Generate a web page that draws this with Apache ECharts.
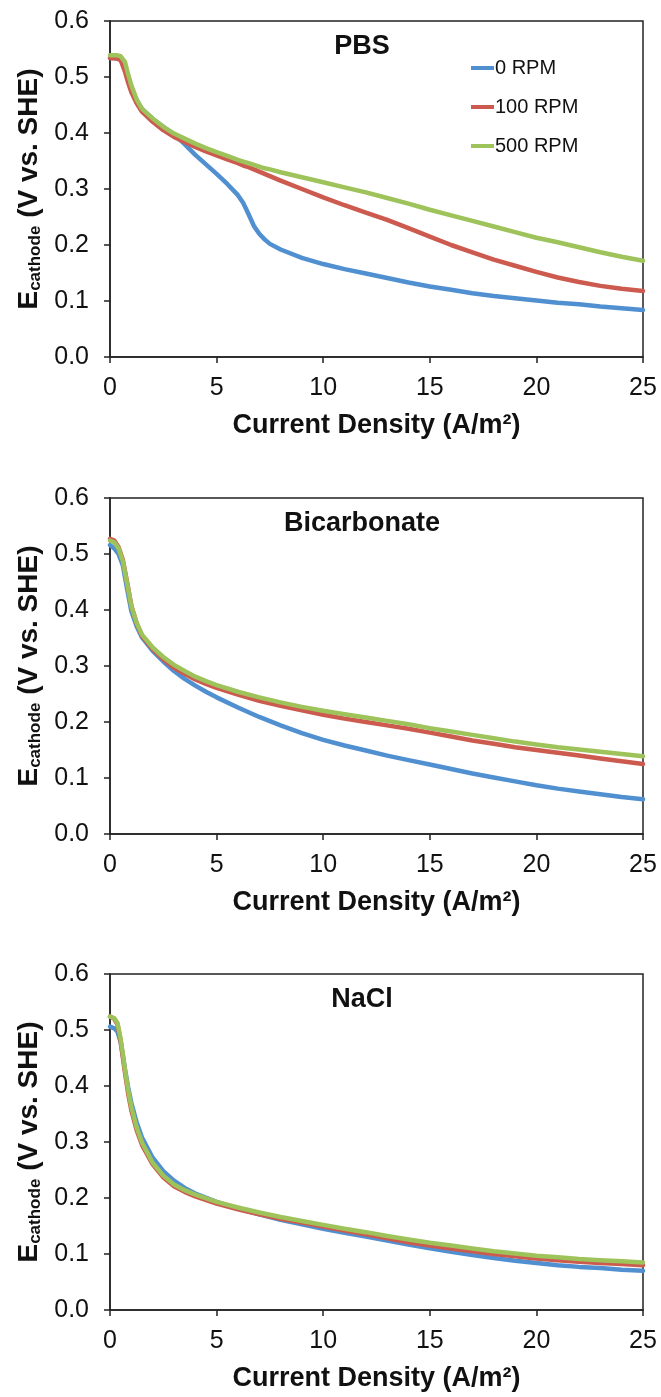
<!DOCTYPE html>
<html>
<head>
<meta charset="utf-8">
<script src="https://cdn.jsdelivr.net/npm/echarts@6/dist/echarts.min.js"></script>
<style>
  html, body { margin: 0; padding: 0; background: #fff; }
  #chart { width: 661px; height: 1397px; }
</style>
</head>
<body>
<div id="chart"></div>
<script>
const seriesNames = ["0 RPM", "100 RPM", "500 RPM"];
const panelTitles = ["PBS", "Bicarbonate", "NaCl"];
const xTicks = [0, 5, 10, 15, 20, 25];
const yTicks = [0, 0.1, 0.2, 0.3, 0.4, 0.5, 0.6];

// PBS
const pbsX = [0, 0.3, 0.5, 0.7, 0.85, 1, 1.25, 1.5, 2, 2.5, 3, 3.5, 4, 4.5, 5, 5.5, 6, 6.25, 6.5, 6.75, 7, 7.25, 7.5, 8, 9, 10, 11, 12, 13, 14, 15, 16, 17, 18, 19, 20, 21, 22, 23, 24, 25];
const pbs0 = [0.534, 0.534, 0.532, 0.52, 0.497, 0.479, 0.458, 0.443, 0.425, 0.411, 0.398, 0.38, 0.361, 0.344, 0.327, 0.309, 0.289, 0.275, 0.255, 0.234, 0.22, 0.21, 0.202, 0.192, 0.177, 0.166, 0.157, 0.149, 0.141, 0.133, 0.126, 0.12, 0.114, 0.109, 0.105, 0.101, 0.097, 0.094, 0.09, 0.087, 0.084];
const pbs100 = [0.534, 0.533, 0.53, 0.51, 0.49, 0.473, 0.453, 0.438, 0.42, 0.405, 0.393, 0.384, 0.375, 0.367, 0.36, 0.353, 0.346, 0.342, 0.339, 0.335, 0.331, 0.327, 0.323, 0.315, 0.3, 0.285, 0.271, 0.258, 0.245, 0.23, 0.215, 0.2, 0.187, 0.174, 0.163, 0.152, 0.142, 0.134, 0.127, 0.122, 0.118];
const pbs500 = [0.539, 0.539, 0.537, 0.527, 0.505, 0.485, 0.46, 0.443, 0.426, 0.411, 0.399, 0.39, 0.381, 0.373, 0.366, 0.359, 0.352, 0.349, 0.346, 0.343, 0.34, 0.337, 0.335, 0.33, 0.321, 0.312, 0.303, 0.294, 0.284, 0.274, 0.263, 0.253, 0.243, 0.233, 0.223, 0.213, 0.205, 0.196, 0.187, 0.179, 0.172];

// Bicarbonate
const bicX = [0, 0.2, 0.4, 0.6, 0.8, 1, 1.25, 1.5, 2, 2.5, 3, 3.5, 4, 4.5, 5, 6, 7, 8, 9, 10, 11, 12, 13, 14, 15, 16, 17, 18, 19, 20, 21, 22, 23, 24, 25];
const bic0 = [0.516, 0.51, 0.5, 0.48, 0.438, 0.398, 0.371, 0.351, 0.327, 0.308, 0.291, 0.277, 0.265, 0.254, 0.244, 0.226, 0.209, 0.194, 0.18, 0.168, 0.158, 0.149, 0.14, 0.132, 0.124, 0.116, 0.108, 0.101, 0.094, 0.087, 0.081, 0.076, 0.071, 0.066, 0.062];
const bic100 = [0.527, 0.524, 0.512, 0.49, 0.45, 0.408, 0.376, 0.354, 0.33, 0.312, 0.297, 0.286, 0.276, 0.268, 0.261, 0.249, 0.238, 0.229, 0.221, 0.213, 0.206, 0.2, 0.194, 0.188, 0.181, 0.174, 0.167, 0.161, 0.155, 0.15, 0.145, 0.14, 0.135, 0.13, 0.125];
const bic500 = [0.524, 0.521, 0.51, 0.488, 0.448, 0.407, 0.377, 0.356, 0.333, 0.316, 0.302, 0.291, 0.281, 0.273, 0.266, 0.254, 0.244, 0.235, 0.227, 0.22, 0.214, 0.208, 0.202, 0.196, 0.189, 0.183, 0.177, 0.171, 0.165, 0.16, 0.155, 0.151, 0.147, 0.143, 0.139];

// NaCl
const naclX = [0, 0.2, 0.35, 0.5, 0.6, 0.7, 0.85, 1, 1.25, 1.5, 2, 2.5, 3, 3.5, 4, 5, 6, 7, 8, 9, 10, 11, 12, 13, 14, 15, 16, 17, 18, 19, 20, 21, 22, 23, 24, 25];
const nacl0 = [0.506, 0.503, 0.497, 0.478, 0.455, 0.43, 0.398, 0.37, 0.335, 0.308, 0.272, 0.248, 0.231, 0.218, 0.208, 0.193, 0.181, 0.171, 0.161, 0.153, 0.145, 0.138, 0.131, 0.124, 0.117, 0.11, 0.104, 0.098, 0.093, 0.088, 0.084, 0.08, 0.077, 0.075, 0.072, 0.07];
const nacl100 = [0.524, 0.52, 0.51, 0.48, 0.452, 0.424, 0.387, 0.357, 0.321, 0.295, 0.26, 0.237, 0.221, 0.211, 0.203, 0.19, 0.18, 0.171, 0.163, 0.156, 0.149, 0.142, 0.135, 0.128, 0.121, 0.115, 0.11, 0.105, 0.1, 0.096, 0.092, 0.089, 0.086, 0.084, 0.082, 0.08];
const nacl500 = [0.524, 0.521, 0.513, 0.484, 0.458, 0.43, 0.393, 0.363, 0.326, 0.299, 0.263, 0.24, 0.224, 0.214, 0.206, 0.193, 0.183, 0.174, 0.166, 0.159, 0.152, 0.145, 0.139, 0.132, 0.126, 0.12, 0.115, 0.11, 0.105, 0.101, 0.097, 0.094, 0.091, 0.089, 0.087, 0.085];

const panels = [
  { x: pbsX, ys: [pbs0, pbs100, pbs500] },
  { x: bicX, ys: [bic0, bic100, bic500] },
  { x: naclX, ys: [nacl0, nacl100, nacl500] },
];

const colors = ["#5090D0", "#CC5A4E", "#9DC35A"];
const font = "Liberation Sans, Arial, Helvetica, sans-serif";
const gridTops = [21, 498, 974];
const plotH = 336;

const chart = echarts.init(document.getElementById("chart"));

const grid = gridTops.map((t) => ({
  left: 110,
  width: 533,
  top: t,
  height: plotH,
  show: true,
  borderColor: "#222",
  borderWidth: 1.5,
  backgroundColor: "transparent",
}));

const xAxis = gridTops.map((t, i) => ({
  gridIndex: i,
  type: "value",
  min: xTicks[0],
  max: xTicks[xTicks.length - 1],
  interval: 5,
  name: "Current Density (A/m²)",
  nameLocation: "middle",
  nameGap: 55,
  nameTextStyle: { fontFamily: font, fontWeight: "bold", fontSize: 27, color: "#111" },
  axisLine: { lineStyle: { color: "#222", width: 1.5 } },
  axisTick: { show: true, inside: false, length: 6, lineStyle: { color: "#222", width: 1.5 } },
  axisLabel: { fontFamily: font, fontSize: 25, color: "#111", margin: 19 },
  splitLine: { show: false },
}));

const yAxis = gridTops.map((t, i) => ({
  gridIndex: i,
  type: "value",
  min: yTicks[0],
  max: yTicks[yTicks.length - 1],
  interval: 0.1,
  name: "{b|E}{s|cathode}{b| (V vs. SHE)}",
  nameLocation: "middle",
  nameRotate: 90,
  nameGap: 64,
  nameTextStyle: {
    rich: {
      b: { fontFamily: font, fontWeight: "bold", fontSize: 28, color: "#111", lineHeight: 30 },
      s: { fontFamily: font, fontWeight: "bold", fontSize: 17, color: "#111", lineHeight: 30, padding: [12, 0, 0, 0] },
    },
  },
  axisLine: { lineStyle: { color: "#222", width: 1.5 } },
  axisTick: { show: true, inside: false, length: 6, lineStyle: { color: "#222", width: 1.5 } },
  axisLabel: { fontFamily: font, fontSize: 25, color: "#111", margin: 21, formatter: (v) => v.toFixed(1) },
  splitLine: { show: false },
}));

const series = [];
panels.forEach((p, i) => {
  p.ys.forEach((ys, k) => {
    series.push({
      name: seriesNames[k],
      type: "line",
      xAxisIndex: i,
      yAxisIndex: i,
      data: p.x.map((x, j) => [x, ys[j]]),
      showSymbol: false,
      smooth: false,
      lineStyle: { width: 4.5, color: colors[k], join: "round", cap: "round" },
      itemStyle: { color: colors[k] },
      clip: true,
      z: 2 + k,
    });
  });
});

const graphic = panelTitles.map((txt, i) => ({
  type: "text",
  x: 362,
  y: gridTops[i] + 26,
  style: {
    text: txt,
    font: "bold 27px " + font,
    fill: "#111",
    textAlign: "center",
    textVerticalAlign: "middle",
  },
}));

chart.setOption({
  backgroundColor: "#fff",
  animation: false,
  grid,
  xAxis,
  yAxis,
  series,
  graphic,
  legend: {
    data: seriesNames,
    orient: "vertical",
    left: 471,
    top: 58,
    padding: 0,
    icon: "rect",
    itemWidth: 23,
    itemHeight: 4,
    itemGap: 19,
    textStyle: { fontFamily: font, fontSize: 20, color: "#111", lineHeight: 20, padding: [0, 0, 0, -4] },
  },
});

window.addEventListener("resize", () => chart.resize());
</script>
</body>
</html>
